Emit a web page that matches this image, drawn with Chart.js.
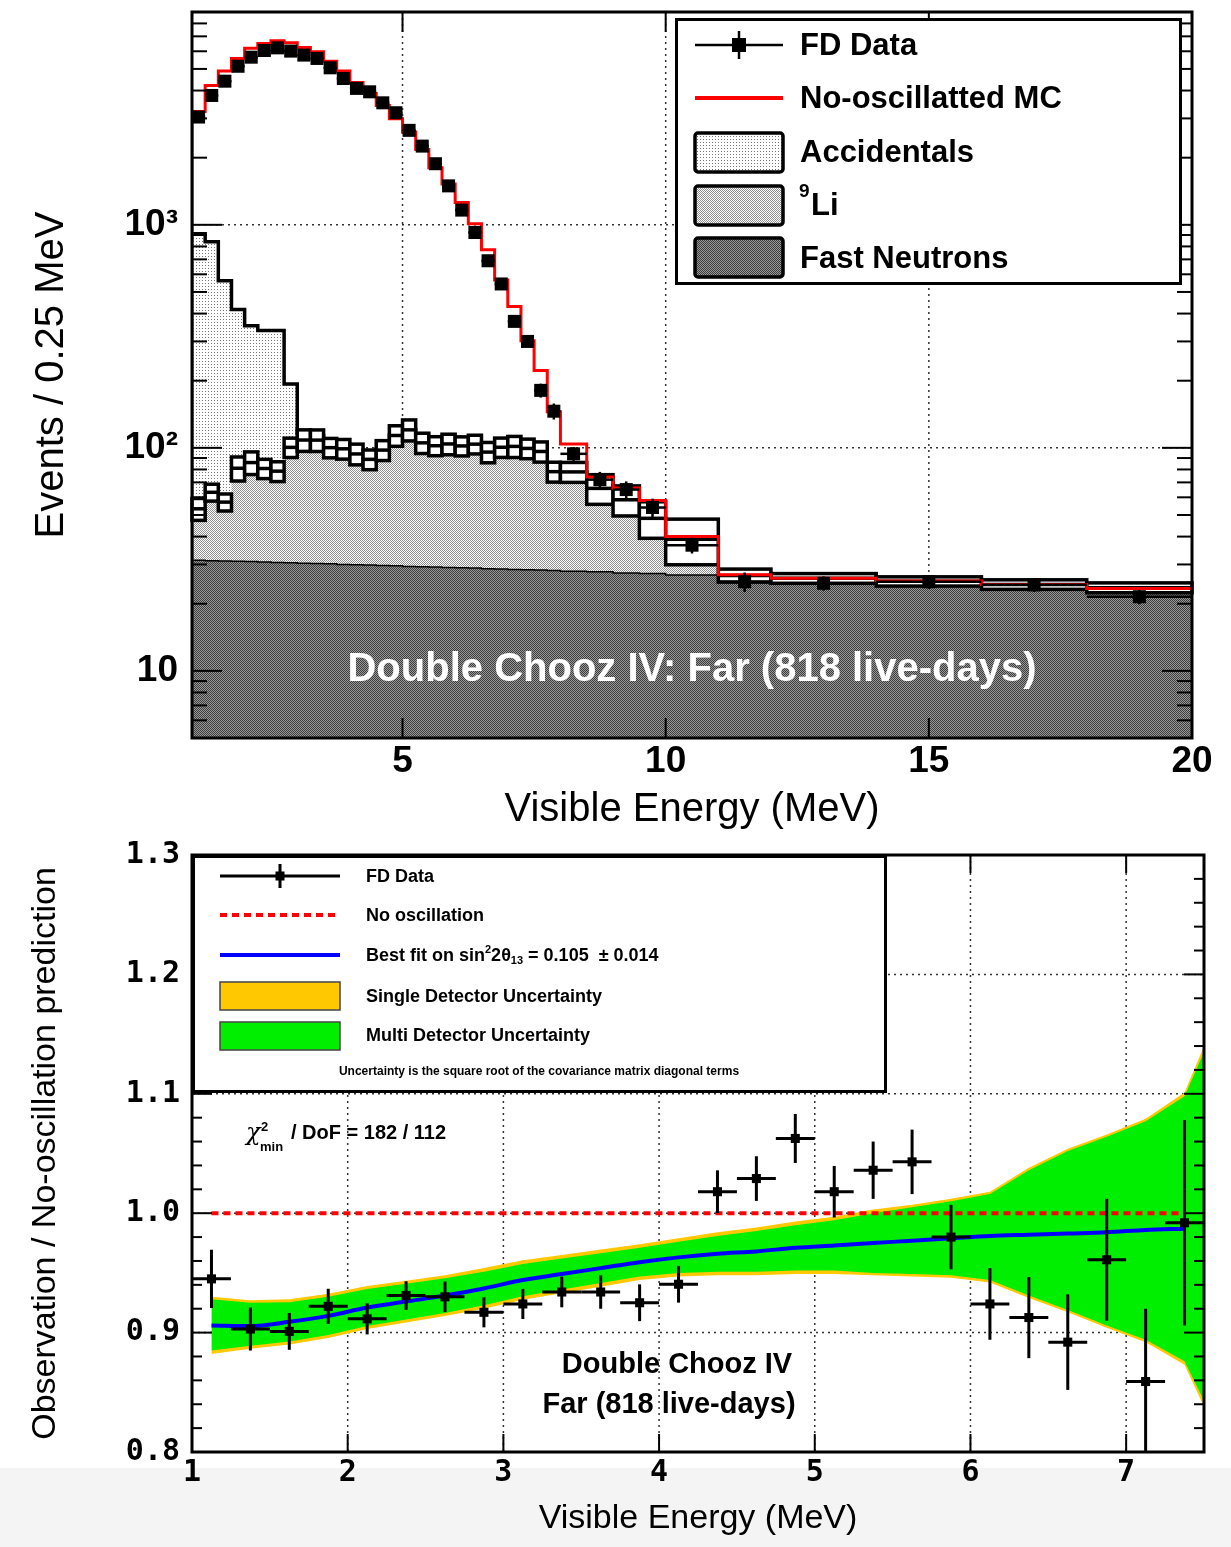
<!DOCTYPE html>
<html>
<head>
<meta charset="utf-8">
<title>Double Chooz IV far detector</title>
<script src="https://cdn.jsdelivr.net/npm/chart.js@4.4.1/dist/chart.umd.min.js"></script>
<style>
  html, body { margin: 0; padding: 0; background: #fff; }
  body { position: relative; width: 1231px; height: 1547px; overflow: hidden; }
  #strip { position: absolute; left: 0; top: 1468px; width: 1231px; height: 79px; background: #f4f4f4; }
  #topChart { position: absolute; left: 0; top: 0; }
  #ratioChart { position: absolute; left: 0; top: 830px; }
</style>
</head>
<body>
<div id="strip"></div>
<canvas id="topChart" width="1231" height="840"></canvas>
<canvas id="ratioChart" width="1231" height="717"></canvas>
<script>
Chart.defaults.font.family = 'Liberation Sans'
Chart.defaults.color = '#000'

// ---- top panel: spectrum (Events / 0.25 MeV) ----
const binEdges = [1, 1.25, 1.5, 1.75, 2, 2.25, 2.5, 2.75, 3, 3.25, 3.5, 3.75, 4, 4.25, 4.5, 4.75, 5, 5.25, 5.5, 5.75,
  6, 6.25, 6.5, 6.75, 7, 7.25, 7.5, 7.75, 8, 8.5, 9, 9.5, 10, 11, 12, 14, 16, 18, 20]
const fdData = [3043, 3802, 4406, 5140, 5645, 6050, 6215, 6010, 5768, 5572, 5058, 4530, 4090, 3948, 3524, 3181,
  2652, 2254, 1879, 1495, 1164, 924, 690, 543, 369, 300, 181, 146, 94, 72, 65, 54, 36.6, 25.1, 24.7, 25.1, 24.3, 21.5]
const fdErr = [55, 62, 66, 72, 75, 78, 79, 78, 76, 75, 71, 67, 64, 63, 59, 56, 51, 47, 43, 39, 34, 30, 26, 23,
  19, 17, 13, 12, 6.9, 6, 5.7, 5.2, 3, 2.5, 1.8, 1.8, 1.7, 1.6]
const noOscMC = [3220, 4210, 4890, 5575, 6193, 6500, 6683, 6554, 6242, 5966, 5415, 4897, 4349, 3878, 3425, 2993,
  2605, 2176, 1802, 1526, 1260, 1012, 774, 565, 430, 302, 222, 145, 104, 74, 66, 58, 40, 27, 26, 25.3, 24.4, 23.4]
const accidentals = [858, 776, 504, 336, 267, 255, 257, 93, 8, 5, 3, 2, 1.5, 1, 0.8, 0.6, 0.5, 0.4, 0.3, 0.3,
  0.2, 0.2, 0.2, 0.2, 0.1, 0.1, 0.1, 0.1, 0.1, 0.1, 0.1, 0.1, 0.1, 0.1, 0.1, 0.1, 0.1, 0.1]
const lithium9 = [22, 32, 26, 50, 55, 50, 48, 70, 78, 78, 70, 69, 64, 59, 68, 84, 91, 76, 73, 75, 73, 75, 67, 72,
  73, 71, 68, 50, 50, 38, 31, 21, 12, 0.3, 0.2, 0.2, 0.2, 0.2]
const fastNeutrons = [31.3, 31.2, 31.1, 31.0, 30.9, 30.8, 30.6, 30.5, 30.4, 30.3, 30.2, 30.0, 29.9, 29.8, 29.7, 29.6,
  29.4, 29.3, 29.2, 29.1, 29.0, 28.9, 28.7, 28.6, 28.5, 28.4, 28.3, 28.2, 28.0, 27.8, 27.5, 27.3, 26.9, 26.5, 25.8, 25.0, 24.2, 23.4]
const bkgErr = [6, 5.5, 5, 10, 10, 8, 8, 10, 12, 12, 10, 10, 10, 9, 10, 12, 13, 11, 10, 11, 10, 10, 10, 10,
  11, 10, 10, 8, 8, 10, 9, 9, 9, 1.8, 1.3, 1.2, 1.2, 1.2]
const topXTicks = [5, 10, 15, 20]
const topYTicks = [10, 100, 1000]
const topYLabels = ['10', '10²', '10³']

// ---- bottom panel: observation / prediction ----
const ratioX = [1.125, 1.375, 1.625, 1.875, 2.125, 2.375, 2.625, 2.875, 3.125, 3.375, 3.625, 3.875, 4.125,
  4.375, 4.625, 4.875, 5.125, 5.375, 5.625, 5.875, 6.125, 6.375, 6.625, 6.875, 7.125, 7.375]
const ratioObs = [0.945, 0.903, 0.901, 0.922, 0.9115, 0.931, 0.930, 0.917, 0.924, 0.934, 0.934, 0.925, 0.9405,
  1.018, 1.029, 1.0626, 1.018, 1.036, 1.043, 0.980, 0.924, 0.9126, 0.892, 0.961, 0.859, 0.992]
const ratioErr = [0.0244, 0.018, 0.0154, 0.0147, 0.013, 0.012, 0.0128, 0.0126, 0.0126, 0.0128, 0.014, 0.0154,
  0.0154, 0.0179, 0.0187, 0.0205, 0.0216, 0.024, 0.027, 0.027, 0.030, 0.034, 0.040, 0.051, 0.061, 0.086]
const ratioHalfBin = 0.125
const bestFit = [0.906, 0.9055, 0.909, 0.914, 0.921, 0.926, 0.931, 0.937, 0.944, 0.949, 0.954, 0.959, 0.963,
  0.966, 0.968, 0.971, 0.973, 0.975, 0.977, 0.979, 0.981, 0.982, 0.983, 0.984, 0.986, 0.987]
const noOscX = [1.125, 7.375]
const noOscRatio = [1, 1]
const bandX = [1.125, 1.375, 1.625, 1.875, 2.125, 2.375, 2.625, 2.875, 3.125, 3.375, 3.625, 3.875, 4.125,
  4.375, 4.625, 4.875, 5.125, 5.375, 5.625, 5.875, 6.125, 6.375, 6.625, 6.875, 7.125, 7.375, 7.5]
const multiUp = [0.928, 0.925, 0.9255, 0.930, 0.9365, 0.941, 0.9455, 0.951, 0.9575, 0.962, 0.9665, 0.971, 0.976,
  0.981, 0.985, 0.990, 0.994, 1.000, 1.005, 1.010, 1.016, 1.036, 1.052, 1.064, 1.077, 1.098, 1.135]
const multiLo = [0.885, 0.889, 0.8925, 0.898, 0.9055, 0.911, 0.9165, 0.923, 0.9305, 0.936, 0.9415, 0.947, 0.950,
  0.951, 0.951, 0.952, 0.952, 0.950, 0.949, 0.948, 0.944, 0.931, 0.919, 0.906, 0.894, 0.876, 0.843]
const singleUp = [0.930, 0.927, 0.928, 0.9325, 0.939, 0.9435, 0.948, 0.954, 0.9605, 0.965, 0.9695, 0.974, 0.979,
  0.984, 0.988, 0.993, 0.997, 1.003, 1.007, 1.012, 1.018, 1.038, 1.054, 1.066, 1.079, 1.101, 1.140]
const singleLo = [0.882, 0.8865, 0.890, 0.8955, 0.903, 0.9085, 0.914, 0.920, 0.9275, 0.933, 0.9385, 0.944, 0.947,
  0.948, 0.948, 0.949, 0.949, 0.948, 0.947, 0.946, 0.942, 0.929, 0.917, 0.904, 0.892, 0.873, 0.838]
const botXTicks = [1, 2, 3, 4, 5, 6, 7]
const botYTicks = [0.8, 0.9, 1.0, 1.1, 1.2, 1.3]

// fill patterns (ROOT style dotted hatches)
function makePattern(size, bg, fg, dots) {
  const c = document.createElement('canvas')
  c.width = size; c.height = size
  const g = c.getContext('2d')
  g.fillStyle = bg; g.fillRect(0, 0, size, size)
  g.fillStyle = fg
  dots.forEach(d => g.fillRect(d[0], d[1], 1, 1))
  return g.createPattern(c, 'repeat')
}
const accPat = makePattern(3, '#ffffff', '#777777', [[1, 1]])
const liPat = makePattern(2, '#ffffff', '#909090', [[0, 0], [1, 1]])
const fnPat = makePattern(2, '#9a9a9a', '#3c3c3c', [[0, 0], [1, 1]])

function seg(ctx, x1, y1, x2, y2) {
  ctx.beginPath(); ctx.moveTo(x1, y1); ctx.lineTo(x2, y2); ctx.stroke()
}
function stepPts(vals) {
  const pts = vals.map((v, i) => ({x: binEdges[i], y: v}))
  pts.push({x: binEdges[binEdges.length - 1], y: vals[vals.length - 1]})
  return pts
}
function rich(ctx, x, y, parts) {
  parts.forEach(p => {
    ctx.font = 'bold ' + p.size + 'px "Liberation Sans"'
    ctx.fillText(p.t, x, y + (p.dy || 0))
    x += ctx.measureText(p.t).width
  })
}
function fixScale(w, h) {
  return function(s) {
    if (w) s.width = w
    if (h) s.height = h
    s.paddingLeft = 0; s.paddingRight = 0; s.paddingTop = 0; s.paddingBottom = 0
  }
}

const centers = fdData.map((v, i) => (binEdges[i] + binEdges[i + 1]) / 2)
const liTop = fastNeutrons.map((v, i) => v + lithium9[i])
const allTop = liTop.map((v, i) => v + accidentals[i])
const mcPts = [{x: binEdges[0], y: 5}].concat(stepPts(noOscMC))

const topDeco = {
  id: 'topDeco',
  beforeDatasetsDraw(chart) {
    const {ctx, chartArea: a, scales: {x, y}} = chart
    ctx.save()
    ctx.strokeStyle = '#333'; ctx.lineWidth = 1.5; ctx.setLineDash([2, 4])
    ;[5, 10, 15].forEach(v => { const px = x.getPixelForValue(v); seg(ctx, px, a.top, px, a.bottom) })
    ;[100, 1000].forEach(v => { const py = y.getPixelForValue(v); seg(ctx, a.left, py, a.right, py) })
    ctx.restore()
  },
  afterDatasetDraw(chart, args) {
    const {ctx, scales: {x, y}} = chart
    if (args.index === 2) {
      // background uncertainty boxes
      ctx.save()
      liTop.forEach((c, i) => {
        const x0 = x.getPixelForValue(binEdges[i]), x1 = x.getPixelForValue(binEdges[i + 1])
        const yt = y.getPixelForValue(c + bkgErr[i]), yb = y.getPixelForValue(c - bkgErr[i])
        ctx.fillStyle = '#fff'; ctx.fillRect(x0, yt, x1 - x0, yb - yt)
        ctx.strokeStyle = '#000'; ctx.lineWidth = 3.5
        ctx.strokeRect(x0, yt, x1 - x0, yb - yt)
        const yc = y.getPixelForValue(c)
        seg(ctx, x0, yc, x1, yc)
      })
      ctx.restore()
    }
    if (args.index === 1) {
      ctx.save(); ctx.strokeStyle = '#000'; ctx.lineWidth = 2.5
      fdData.forEach((v, i) => {
        const px = x.getPixelForValue(centers[i]), py = y.getPixelForValue(v)
        seg(ctx, px, y.getPixelForValue(v - fdErr[i]), px, y.getPixelForValue(v + fdErr[i]))
        seg(ctx, x.getPixelForValue(binEdges[i]), py, x.getPixelForValue(binEdges[i + 1]), py)
      })
      ctx.restore()
    }
  },
  afterDraw(chart) {
    const {ctx, chartArea: a, scales: {x, y}} = chart
    ctx.save()
    ctx.strokeStyle = '#000'; ctx.lineWidth = 2
    for (let d = 1; d <= 1000; d *= 10) {
      for (let m = 1; m <= 9; m++) {
        const v = m * d
        if (v <= 5 || v >= 9000) continue
        const py = y.getPixelForValue(v), len = m === 1 ? 30 : 15
        seg(ctx, a.left, py, a.left + len, py)
        seg(ctx, a.right, py, a.right - len, py)
      }
    }
    topXTicks.forEach(v => {
      const px = x.getPixelForValue(v)
      seg(ctx, px, a.bottom, px, a.bottom - 20)
      seg(ctx, px, a.top, px, a.top + 20)
    })
    ctx.lineWidth = 3
    ctx.strokeRect(a.left, a.top, a.width, a.height)

    // label inside the plot
    ctx.fillStyle = '#fff'; ctx.textAlign = 'center'; ctx.textBaseline = 'middle'
    ctx.font = 'bold 40px "Liberation Sans"'
    ctx.fillText('Double Chooz IV: Far (818 live-days)', (a.left + a.right) / 2, 670)

    // legend
    ctx.fillStyle = '#fff'; ctx.fillRect(675, 18, 507, 267)
    ctx.strokeStyle = '#000'; ctx.lineWidth = 3; ctx.strokeRect(676.5, 19.5, 504, 264)
    ctx.lineWidth = 2.5; seg(ctx, 695, 45, 783, 45); seg(ctx, 739, 31, 739, 59)
    ctx.fillStyle = '#000'; ctx.fillRect(732, 38, 14, 14)
    ctx.strokeStyle = '#ff0000'; ctx.lineWidth = 4; seg(ctx, 695, 98, 783, 98)
    ;[[accPat, 133], [liPat, 186], [fnPat, 238]].forEach(b => {
      ctx.fillStyle = b[0]; ctx.fillRect(695, b[1], 88, 39)
      ctx.strokeStyle = '#000'; ctx.lineWidth = 3.5
      ctx.beginPath(); ctx.roundRect(695, b[1], 88, 39, 3); ctx.stroke()
    })
    ctx.fillStyle = '#000'; ctx.textAlign = 'left'
    ctx.font = 'bold 31px "Liberation Sans"'
    ctx.fillText('FD Data', 800, 46)
    ctx.fillText('No-oscillatted MC', 800, 99)
    ctx.fillText('Accidentals', 800, 153)
    ctx.fillText('Fast Neutrons', 800, 259)
    ctx.font = 'bold 19px "Liberation Sans"'; ctx.fillText('9', 799, 192)
    ctx.font = 'bold 31px "Liberation Sans"'; ctx.fillText('Li', 811, 206)
    ctx.restore()
  }
}

new Chart(document.getElementById('topChart'), {
  type: 'line',
  data: {
    datasets: [
      {label: 'FD Data', data: centers.map((c, i) => ({x: c, y: fdData[i]})), showLine: false,
        pointStyle: 'rect', pointRadius: 9.2, pointBackgroundColor: '#000', pointBorderWidth: 0},
      {label: 'No-oscillatted MC', data: mcPts, stepped: 'before', borderColor: '#ff0000', borderWidth: 3,
        pointRadius: 0, fill: false},
      {label: 'Fast Neutrons', data: stepPts(fastNeutrons), stepped: 'before', borderColor: '#000', borderWidth: 1.5,
        backgroundColor: fnPat, fill: 'start', pointRadius: 0},
      {label: '9Li', data: stepPts(liTop), stepped: 'before', borderColor: 'rgba(0,0,0,0)', borderWidth: 1,
        backgroundColor: liPat, fill: 'start', pointRadius: 0},
      {label: 'Accidentals', data: stepPts(allTop), stepped: 'before', borderColor: '#000', borderWidth: 3.5,
        backgroundColor: accPat, fill: 'start', pointRadius: 0}
    ]
  },
  options: {
    responsive: false, animation: false, devicePixelRatio: 1, events: [],
    layout: {padding: {top: 12, right: 39, left: 0, bottom: 0}},
    plugins: {legend: {display: false}, tooltip: {enabled: false}},
    scales: {
      x: {
        type: 'linear', min: 1, max: 20,
        afterBuildTicks: s => { s.ticks = topXTicks.map(v => ({value: v})) },
        afterFit: fixScale(0, 102),
        grid: {display: false, drawTicks: false}, border: {display: false},
        ticks: {font: {size: 37, weight: 'bold'}, padding: 2, maxRotation: 0, autoSkip: false},
        title: {display: true, text: 'Visible Energy (MeV)', font: {size: 40}, padding: {top: 0, bottom: 6}}
      },
      y: {
        type: 'logarithmic', min: 5, max: 9000,
        afterBuildTicks: s => { s.ticks = topYTicks.map(v => ({value: v})) },
        afterFit: fixScale(192, 0),
        grid: {display: false, drawTicks: false}, border: {display: false},
        ticks: {font: {size: 37, weight: 'bold'}, padding: 14, autoSkip: false,
          callback: v => topYLabels[topYTicks.indexOf(v)]},
        title: {display: true, text: 'Events / 0.25 MeV', font: {size: 40}, padding: {top: 28, bottom: 0}}
      }
    }
  },
  plugins: [topDeco]
})

// ---- bottom chart ----
const ratioDeco = {
  id: 'ratioDeco',
  beforeDatasetsDraw(chart) {
    const {ctx, chartArea: a, scales: {x, y}} = chart
    ctx.save()
    ctx.strokeStyle = '#333'; ctx.lineWidth = 1.5; ctx.setLineDash([2, 4])
    botXTicks.slice(1).forEach(v => { const px = x.getPixelForValue(v); seg(ctx, px, a.top, px, a.bottom) })
    botYTicks.slice(1, -1).forEach(v => { const py = y.getPixelForValue(v); seg(ctx, a.left, py, a.right, py) })
    ctx.restore()
  },
  afterDatasetDraw(chart, args) {
    if (args.index !== 1) return
    const {ctx, chartArea: a, scales: {x, y}} = chart
    ctx.save()
    ctx.beginPath(); ctx.rect(a.left, a.top, a.width, a.height); ctx.clip()
    ctx.strokeStyle = '#000'; ctx.lineWidth = 3
    ratioObs.forEach((v, i) => {
      const px = x.getPixelForValue(ratioX[i]), py = y.getPixelForValue(v)
      seg(ctx, px, y.getPixelForValue(v - ratioErr[i]), px, y.getPixelForValue(v + ratioErr[i]))
      seg(ctx, x.getPixelForValue(ratioX[i] - ratioHalfBin), py, x.getPixelForValue(ratioX[i] + ratioHalfBin), py)
    })
    ctx.restore()
  },
  afterDraw(chart) {
    const {ctx, chartArea: a, scales: {x, y}} = chart
    ctx.save()
    ctx.strokeStyle = '#000'; ctx.lineWidth = 2
    for (let k = 0; k <= 25; k++) {
      const v = 0.8 + k * 0.02, py = y.getPixelForValue(v), len = k % 5 === 0 ? 20 : 10
      seg(ctx, a.left, py, a.left + len, py)
      seg(ctx, a.right, py, a.right - len, py)
    }
    botXTicks.forEach(v => {
      const px = x.getPixelForValue(v)
      seg(ctx, px, a.bottom, px, a.bottom - 18)
      seg(ctx, px, a.top, px, a.top + 18)
    })
    ctx.lineWidth = 3
    ctx.strokeRect(a.left, a.top, a.width, a.height)

    // legend box
    ctx.fillStyle = '#fff'; ctx.fillRect(192, 25, 695, 238)
    ctx.strokeRect(193.5, 26.5, 692, 235)
    ctx.lineWidth = 3; ctx.strokeStyle = '#000'
    seg(ctx, 220, 46, 340, 46); seg(ctx, 280, 34, 280, 58)
    ctx.fillStyle = '#000'; ctx.fillRect(275.5, 41.5, 9, 9)
    ctx.strokeStyle = '#ff0000'; ctx.lineWidth = 4; ctx.setLineDash([7, 5])
    seg(ctx, 220, 85, 340, 85)
    ctx.setLineDash([])
    ctx.strokeStyle = '#0000ff'; ctx.lineWidth = 4
    seg(ctx, 220, 125, 340, 125)
    ctx.strokeStyle = '#444'; ctx.lineWidth = 1.5
    ctx.fillStyle = '#ffc800'; ctx.fillRect(220, 152, 120, 28); ctx.strokeRect(220, 152, 120, 28)
    ctx.fillStyle = '#00ee00'; ctx.fillRect(220, 192, 120, 28); ctx.strokeRect(220, 192, 120, 28)

    ctx.fillStyle = '#000'; ctx.textAlign = 'left'; ctx.textBaseline = 'middle'
    ctx.font = 'bold 18px "Liberation Sans"'
    ctx.fillText('FD Data', 366, 47)
    ctx.fillText('No oscillation', 366, 86)
    rich(ctx, 366, 126, [
      {t: 'Best fit on sin', size: 18}, {t: '2', size: 11, dy: -6}, {t: '2θ', size: 18},
      {t: '13', size: 11, dy: 5}, {t: ' = 0.105  ± 0.014', size: 18}])
    ctx.font = 'bold 18px "Liberation Sans"'
    ctx.fillText('Single Detector Uncertainty', 366, 167)
    ctx.fillText('Multi Detector Uncertainty', 366, 206)
    ctx.textAlign = 'center'
    ctx.font = 'bold 12px "Liberation Sans"'
    ctx.fillText('Uncertainty is the square root of the covariance matrix diagonal terms', 539, 242)

    // chi2 and labels
    ctx.textAlign = 'left'
    ctx.font = 'italic 24px "DejaVu Serif"'; ctx.fillText('χ', 246, 304)
    ctx.font = 'bold 13px "Liberation Sans"'; ctx.fillText('2', 261, 297); ctx.fillText('min', 260, 317)
    ctx.font = 'bold 20px "Liberation Sans"'; ctx.fillText('/ DoF = 182 / 112', 291, 303)
    ctx.textAlign = 'center'
    ctx.font = 'bold 29px "Liberation Sans"'
    ctx.fillText('Double Chooz IV', 677, 535)
    ctx.fillText('Far (818 live-days)', 669, 575)
    ctx.restore()
  }
}

new Chart(document.getElementById('ratioChart'), {
  type: 'line',
  data: {
    datasets: [
      {label: 'FD Data', data: ratioX.map((v, i) => ({x: v, y: ratioObs[i]})), showLine: false,
        pointStyle: 'rect', pointRadius: 6.4, pointBackgroundColor: '#000', pointBorderWidth: 0},
      {label: 'Best fit', data: ratioX.map((v, i) => ({x: v, y: bestFit[i]})), borderColor: '#0000ff',
        borderWidth: 4, pointRadius: 0, cubicInterpolationMode: 'monotone', fill: false},
      {label: 'No oscillation', data: noOscX.map((v, i) => ({x: v, y: noOscRatio[i]})), borderColor: '#ff0000',
        borderWidth: 4, borderDash: [7, 5], pointRadius: 0, fill: false},
      {label: 'Multi Detector Uncertainty', data: bandX.map((v, i) => ({x: v, y: multiUp[i]})),
        borderColor: 'rgba(0,0,0,0)', borderWidth: 1, backgroundColor: '#00ee00', fill: '+1', pointRadius: 0},
      {label: 'multi lo', data: bandX.map((v, i) => ({x: v, y: multiLo[i]})),
        borderColor: 'rgba(0,0,0,0)', borderWidth: 1, fill: false, pointRadius: 0},
      {label: 'Single Detector Uncertainty', data: bandX.map((v, i) => ({x: v, y: singleUp[i]})),
        borderColor: 'rgba(0,0,0,0)', borderWidth: 1, backgroundColor: '#ffc800', fill: '+1', pointRadius: 0},
      {label: 'single lo', data: bandX.map((v, i) => ({x: v, y: singleLo[i]})),
        borderColor: 'rgba(0,0,0,0)', borderWidth: 1, fill: false, pointRadius: 0}
    ]
  },
  options: {
    responsive: false, animation: false, devicePixelRatio: 1, events: [],
    layout: {padding: {top: 25, right: 27, left: 0, bottom: 0}},
    plugins: {legend: {display: false}, tooltip: {enabled: false}},
    scales: {
      x: {
        type: 'linear', min: 1, max: 7.5,
        afterBuildTicks: s => { s.ticks = botXTicks.map(v => ({value: v})) },
        afterFit: fixScale(0, 95),
        grid: {display: false, drawTicks: false}, border: {display: false},
        ticks: {font: {family: 'DejaVu Sans Mono', size: 30, weight: 'bold'}, padding: 3, maxRotation: 0, autoSkip: false},
        title: {display: true, text: 'Visible Energy (MeV)', font: {size: 34}, padding: {top: 0, bottom: 8}}
      },
      y: {
        type: 'linear', min: 0.8, max: 1.3,
        afterBuildTicks: s => { s.ticks = botYTicks.map(v => ({value: v})) },
        afterFit: fixScale(192, 0),
        grid: {display: false, drawTicks: false}, border: {display: false},
        ticks: {font: {family: 'DejaVu Sans Mono', size: 30, weight: 'bold'}, padding: 12, autoSkip: false,
          callback: v => v.toFixed(1)},
        title: {display: true, text: 'Observation / No-oscillation prediction', font: {size: 34},
          padding: {top: 25, bottom: 0}}
      }
    }
  },
  plugins: [ratioDeco]
})
</script>
</body>
</html>
